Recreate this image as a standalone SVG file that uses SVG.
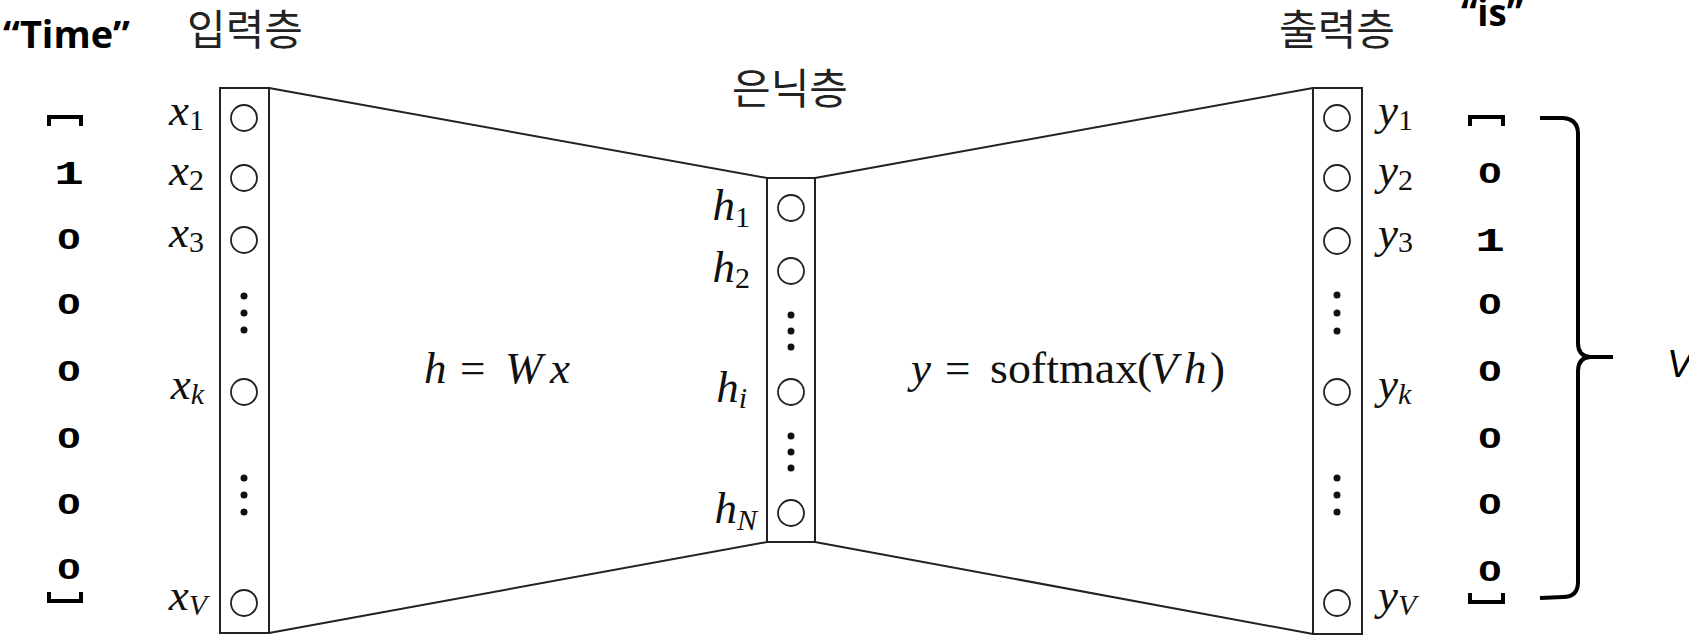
<svg xmlns="http://www.w3.org/2000/svg" width="1689" height="635" viewBox="0 0 1689 635">
<style>
.box{fill:#fff;stroke:#222;stroke-width:2}
.edge{stroke:#222;stroke-width:2;fill:none}
.unit{fill:#fff;stroke:#222;stroke-width:1.8}
.dot{fill:#111}
.math{font-family:"Liberation Serif","DejaVu Serif",serif;font-size:45px;font-style:italic;fill:#111}
.sub{font-size:30px}
.up{font-style:normal}
.kor{font-family:"Noto Sans CJK KR","Noto Sans",sans-serif;font-size:42px;font-weight:400;fill:#222;text-anchor:middle}
.word{font-family:"Open Sans","Liberation Sans",sans-serif;font-size:38px;font-weight:bold;fill:#000}
.one{font-family:"Liberation Mono","DejaVu Sans Mono",monospace;font-size:34px;font-weight:bold;fill:#000;text-anchor:middle}
.zero{font-family:"Liberation Sans","Arial",sans-serif;font-size:29px;font-weight:bold;fill:#000;text-anchor:middle}
.brk{stroke:#000;stroke-width:4;fill:none}
</style>
<rect width="1689" height="635" fill="#fff"/>

<g id="connectors">
<line class="edge" x1="269" y1="88" x2="767" y2="178"/>
<line class="edge" x1="269" y1="633" x2="767" y2="542"/>
<line class="edge" x1="815" y1="178" x2="1313" y2="88"/>
<line class="edge" x1="815" y1="542" x2="1313" y2="634"/>
</g>

<g id="input-layer">
<rect class="box" x="220" y="88" width="49" height="545"/>
<circle class="unit" cx="244" cy="118" r="13"/>
<circle class="unit" cx="244" cy="178" r="13"/>
<circle class="unit" cx="244" cy="240" r="13"/>
<circle class="dot" cx="244" cy="296" r="3.5"/>
<circle class="dot" cx="244" cy="313" r="3.5"/>
<circle class="dot" cx="244" cy="330" r="3.5"/>
<circle class="unit" cx="244" cy="392" r="13"/>
<circle class="dot" cx="244" cy="478" r="3.5"/>
<circle class="dot" cx="244" cy="495" r="3.5"/>
<circle class="dot" cx="244" cy="512" r="3.5"/>
<circle class="unit" cx="244" cy="603" r="13"/>
<g class="math" text-anchor="end">
<text x="204" y="125">x<tspan class="sub up" dy="5">1</tspan></text>
<text x="204" y="185">x<tspan class="sub up" dy="5">2</tspan></text>
<text x="204" y="247">x<tspan class="sub up" dy="5">3</tspan></text>
<text x="204" y="399">x<tspan class="sub" dy="5">k</tspan></text>
<text x="207" y="610">x<tspan class="sub" dy="5">V</tspan></text>
</g>
<text class="kor" x="245" y="45">입력층</text>
</g>

<g id="hidden-layer">
<rect class="box" x="767" y="178" width="48" height="364"/>
<circle class="unit" cx="791" cy="208" r="13"/>
<circle class="unit" cx="791" cy="271" r="13"/>
<circle class="dot" cx="791" cy="315" r="3.5"/>
<circle class="dot" cx="791" cy="331" r="3.5"/>
<circle class="dot" cx="791" cy="347" r="3.5"/>
<circle class="unit" cx="791" cy="392" r="13"/>
<circle class="dot" cx="791" cy="436" r="3.5"/>
<circle class="dot" cx="791" cy="452" r="3.5"/>
<circle class="dot" cx="791" cy="468" r="3.5"/>
<circle class="unit" cx="791" cy="513" r="13"/>
<g class="math" text-anchor="end">
<text x="750" y="220">h<tspan class="sub up" dy="7">1</tspan></text>
<text x="750" y="282">h<tspan class="sub up" dy="6">2</tspan></text>
<text x="747" y="402">h<tspan class="sub" dy="6">i</tspan></text>
<text x="757" y="523">h<tspan class="sub" dy="7">N</tspan></text>
</g>
<text class="kor" x="790" y="104">은닉층</text>
</g>

<g id="output-layer">
<rect class="box" x="1313" y="88" width="49" height="546"/>
<circle class="unit" cx="1337" cy="118" r="13"/>
<circle class="unit" cx="1337" cy="178" r="13"/>
<circle class="unit" cx="1337" cy="241" r="13"/>
<circle class="dot" cx="1337" cy="295" r="3.5"/>
<circle class="dot" cx="1337" cy="313" r="3.5"/>
<circle class="dot" cx="1337" cy="331" r="3.5"/>
<circle class="unit" cx="1337" cy="392" r="13"/>
<circle class="dot" cx="1337" cy="478" r="3.5"/>
<circle class="dot" cx="1337" cy="495" r="3.5"/>
<circle class="dot" cx="1337" cy="512" r="3.5"/>
<circle class="unit" cx="1337" cy="603" r="13"/>
<g class="math">
<text x="1378" y="125">y<tspan class="sub up" dy="5">1</tspan></text>
<text x="1378" y="185">y<tspan class="sub up" dy="5">2</tspan></text>
<text x="1378" y="248">y<tspan class="sub up" dy="4">3</tspan></text>
<text x="1378" y="399">y<tspan class="sub" dy="5">k</tspan></text>
<text x="1378" y="610">y<tspan class="sub" dy="5">V</tspan></text>
</g>
<text class="kor" x="1337" y="45">출력층</text>
</g>

<g id="formulas" class="math">
<text y="383"><tspan x="424">h</tspan><tspan x="460" class="up">=</tspan><tspan x="505">W</tspan><tspan x="550">x</tspan></text>
<text y="383"><tspan x="911">y</tspan><tspan x="945" class="up">=</tspan><tspan x="990" class="up" textLength="148" lengthAdjust="spacingAndGlyphs">softmax</tspan><tspan x="1137" class="up">(</tspan><tspan x="1150">V</tspan><tspan x="1184">h</tspan><tspan x="1210" class="up">)</tspan></text>
</g>

<g id="input-vector">
<text class="word" x="3" y="48" textLength="127" lengthAdjust="spacingAndGlyphs">“Time”</text>
<path class="brk" d="M49,126 L49,117 L81,117 L81,126"/>
<text class="one" transform="translate(69,184) scale(1.45,1)">1</text>
<g class="zero">
<text transform="translate(69,249) scale(1.45,1)">0</text>
<text transform="translate(69,314) scale(1.45,1)">0</text>
<text transform="translate(69,381) scale(1.45,1)">0</text>
<text transform="translate(69,448) scale(1.45,1)">0</text>
<text transform="translate(69,514) scale(1.45,1)">0</text>
<text transform="translate(69,579) scale(1.45,1)">0</text>
</g>
<path class="brk" d="M49,592 L49,601 L81,601 L81,592"/>
</g>

<g id="output-vector">
<text class="word" x="1461" y="26" textLength="62" lengthAdjust="spacingAndGlyphs">“is”</text>
<path class="brk" d="M1470,126 L1470,117 L1503,117 L1503,126"/>
<text class="one" transform="translate(1490,251) scale(1.45,1)">1</text>
<g class="zero">
<text transform="translate(1490,183) scale(1.45,1)">0</text>
<text transform="translate(1490,314) scale(1.45,1)">0</text>
<text transform="translate(1490,381) scale(1.45,1)">0</text>
<text transform="translate(1490,448) scale(1.45,1)">0</text>
<text transform="translate(1490,514) scale(1.45,1)">0</text>
<text transform="translate(1490,581) scale(1.45,1)">0</text>
</g>
<path class="brk" d="M1470,593 L1470,602 L1503,602 L1503,593"/>
</g>

<g id="size-brace">
<path class="brk" d="M1540,118 L1563,118 Q1578,119 1578,134 L1578,343 Q1578,356 1590,357 L1613,357 M1590,357 Q1578,358 1578,371 L1578,582 Q1578,597 1563,597 L1540,598"/>
<text x="1667" y="377" font-family="Liberation Sans, Arial, sans-serif" font-size="38" font-style="italic" fill="#000">V</text>
</g>
</svg>
